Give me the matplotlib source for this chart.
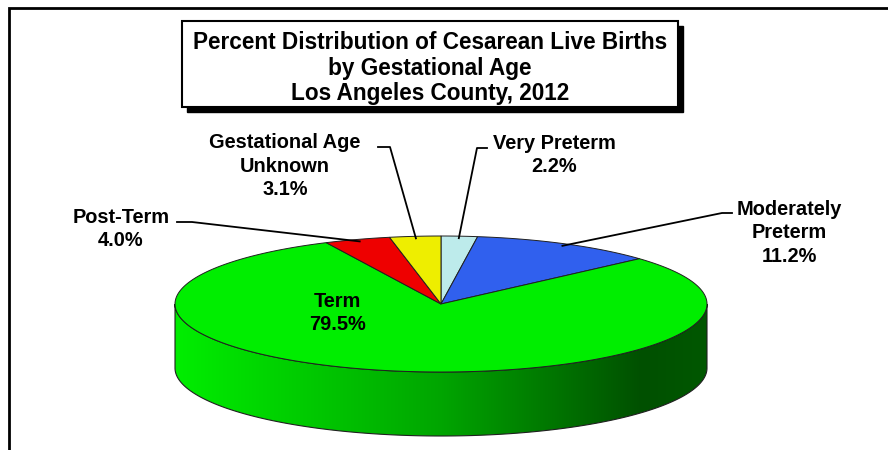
import numpy as np
import matplotlib.pyplot as plt
from matplotlib.patches import Polygon, Rectangle

labels = ["Very Preterm", "Moderately\nPreterm", "Term", "Post-Term", "Gestational Age\nUnknown"]
values = [2.2, 11.2, 79.5, 4.0, 3.1]
colors = ["#BDEBEB", "#3060EE", "#00EE00", "#EE0000", "#EEEE00"]
title_lines = ["Percent Distribution of Cesarean Live Births", "by Gestational Age", "Los Angeles County, 2012"]

plt.rcParams['font.family'] = ['Liberation Sans', 'DejaVu Sans']

# pie geometry in pixels (y grows downward)
cx, cy = 441, 304
a, b = 266, 68
depth = 64

# label centres and leader elbows
label_pos = [(554, 155), (789, 233), (337, 313), (121, 229), (285, 166)]
elbows = [[(487, 148), (477, 148)], [(732, 213), (722, 213)], None,
          [(177, 222), (192, 222)], [(378, 147), (390, 147)]]


def ell(theta, r=1.0, dy=0):
    t = np.radians(theta)
    return cx + r * a * np.sin(t), cy - r * b * np.cos(t) + dy


fig = plt.figure(figsize=(8.88, 4.5), dpi=100)
ax = fig.add_axes([0, 0, 1, 1])
ax.set_xlim(0, 888)
ax.set_ylim(450, 0)
ax.set_axis_off()

# outer frame (cropped on right and bottom)
ax.plot([9, 9, 888], [450, 8, 8], color="black", lw=2, solid_joinstyle="miter")

total = sum(values)
starts = np.concatenate([[0], np.cumsum(values)[:-1]]) / total * 360
ends = np.cumsum(values) / total * 360

# shaded side wall
xs = np.arange(0, 888)
shade = np.interp(xs, [175, 441, 640, 707], [238, 165, 80, 88])
grad = np.zeros((2, len(xs), 3))
grad[:, :, 1] = shade / 255
for s, e in zip(starts, ends):
    lo, hi = max(s, 90), min(e, 270)
    if hi <= lo:
        continue
    th = np.linspace(lo, hi, 200)
    tx, ty = ell(th)
    bx, by = ell(th[::-1], dy=depth)
    pts = np.column_stack([np.concatenate([tx, bx]), np.concatenate([ty, by])])
    side = Polygon(pts, closed=True, facecolor="none", edgecolor="#202020", lw=0.8, zorder=3)
    ax.add_patch(side)
    im = ax.imshow(grad, extent=[0, 888, 450, 0], aspect="auto", zorder=2)
    im.set_clip_path(side)

# top surface
for s, e, c in zip(starts, ends, colors):
    th = np.linspace(s, e, max(int(e - s) * 2, 10))
    px, py = ell(th)
    pts = np.column_stack([np.concatenate([[cx], px]), np.concatenate([[cy], py])])
    ax.add_patch(Polygon(pts, closed=True, facecolor=c, edgecolor="#202020", lw=0.7, zorder=4))

# labels and leader lines
for i, lab in enumerate(labels):
    pct = 100 * values[i] / total
    ax.text(label_pos[i][0], label_pos[i][1], f"{lab}\n{pct:.1f}%", ha="center", va="center",
            fontsize=14.4, fontweight="bold", linespacing=1.32, zorder=6)
    if elbows[i] is not None:
        mid = (starts[i] + ends[i]) / 2
        ex, ey = ell(mid, r=0.97)
        lx = [elbows[i][0][0], elbows[i][1][0], ex]
        ly = [elbows[i][0][1], elbows[i][1][1], ey]
        ax.plot(lx, ly, color="black", lw=1.3, zorder=5)

# title box with shadow
ax.add_patch(Rectangle((187, 26), 496, 86, facecolor="black", edgecolor="black", zorder=6))
ax.add_patch(Rectangle((182, 21), 496, 86, facecolor="white", edgecolor="black", lw=1.5, zorder=7))
ax.text(430, 68, "\n".join(title_lines), ha="center", va="center", fontsize=16.3,
        fontweight="bold", linespacing=1.12, zorder=8)

plt.savefig("out.png", dpi=100)
